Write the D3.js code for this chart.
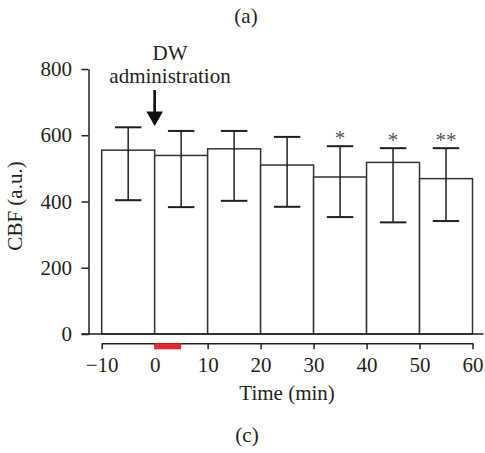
<!DOCTYPE html>
<html>
<head>
<meta charset="utf-8">
<title>CBF</title>
<script src="https://d3js.org/d3.v7.min.js"></script>
<style>
  body { margin: 0; background: #fff; }
</style>
</head>
<body>
<script>
// data
var binStart = [-10, 0, 10, 20, 30, 40, 50];   // each bar covers 10 min
var meanCBF  = [555, 539, 559, 510, 474, 518, 469];
var errHigh  = [624, 613, 613, 595, 567, 561, 561];
var errLow   = [404, 383, 402, 384, 353, 337, 341];
var signif   = ["", "", "", "", "*", "*", "**"];
var xTicks   = [-10, 0, 10, 20, 30, 40, 50, 60];
var yTicks   = [0, 200, 400, 600, 800];
var dwStart = 0, dwEnd = 5;

var W = 485, H = 453;
var serif = "'Liberation Serif', 'DejaVu Serif', serif";
var svg = d3.select("body").append("svg")
    .attr("width", W).attr("height", H);

var x = d3.scaleLinear().domain([-10, 60]).range([101.7, 472.5]);
var y = d3.scaleLinear().domain([0, 800]).range([334, 69]);
var axisY = 88.5, xAxisY = 343.3;
var ink = "#231f20";

function label(sel, size) {
    return sel.style("font-family", serif).style("font-size", size + "px").style("fill", ink);
}

// bars
svg.selectAll(".bar")
    .data(binStart)
    .enter().append("rect")
    .attr("class", "bar")
    .attr("x", function(d) { return x(d); })
    .attr("width", function(d) { return x(d + 10) - x(d); })
    .attr("y", function(d, i) { return y(meanCBF[i]); })
    .attr("height", function(d, i) { return y(0) - y(meanCBF[i]); })
    .attr("fill", "#fff")
    .attr("stroke", "#333")
    .attr("stroke-width", 1.5);

// error bars
var capW = (x(10) - x(0)) / 2;
var eb = svg.selectAll(".err")
    .data(binStart)
    .enter().append("g")
    .attr("class", "err")
    .attr("stroke", ink)
    .attr("stroke-width", 1.5);
eb.append("line")
    .attr("x1", function(d) { return x(d + 5); })
    .attr("x2", function(d) { return x(d + 5); })
    .attr("y1", function(d, i) { return y(errHigh[i]); })
    .attr("y2", function(d, i) { return y(errLow[i]); });
eb.append("line")
    .attr("x1", function(d) { return x(d + 5) - capW / 2; })
    .attr("x2", function(d) { return x(d + 5) + capW / 2; })
    .attr("y1", function(d, i) { return y(errHigh[i]); })
    .attr("y2", function(d, i) { return y(errHigh[i]); })
    .attr("stroke-width", 2);
eb.append("line")
    .attr("x1", function(d) { return x(d + 5) - capW / 2; })
    .attr("x2", function(d) { return x(d + 5) + capW / 2; })
    .attr("y1", function(d, i) { return y(errLow[i]); })
    .attr("y2", function(d, i) { return y(errLow[i]); })
    .attr("stroke-width", 2);

// significance stars
label(svg.selectAll(".sig")
    .data(binStart)
    .enter().append("text")
    .attr("class", "sig")
    .attr("x", function(d) { return x(d + 5); })
    .attr("y", function(d, i) { return y(errHigh[i]) - 1; })
    .attr("text-anchor", "middle")
    .text(function(d, i) { return signif[i]; }), 21)
    .style("fill", "#555");

// baseline at zero
svg.append("line")
    .attr("x1", axisY - 7).attr("x2", x(60) + 11)
    .attr("y1", y(0)).attr("y2", y(0))
    .attr("stroke", ink).attr("stroke-width", 1.5);

// y axis
var gy = svg.append("g")
    .attr("transform", "translate(" + axisY + ",0)")
    .call(d3.axisLeft(y).tickValues(yTicks).tickSize(7).tickSizeOuter(0).tickPadding(9.5));
gy.attr("font-family", null).attr("font-size", null);
gy.selectAll("path, line").attr("stroke", ink).attr("stroke-width", 1.5);
label(gy.selectAll("text"), 21);

// x axis
var gx = svg.append("g")
    .attr("transform", "translate(0," + xAxisY + ")")
    .call(d3.axisBottom(x).tickValues(xTicks).tickSize(6).tickSizeOuter(0).tickPadding(8));
gx.attr("font-family", null).attr("font-size", null);
gx.selectAll("path, line").attr("stroke", ink).attr("stroke-width", 1.5);
label(gx.selectAll("text"), 21);

// DW administration period
svg.append("rect")
    .attr("x", x(dwStart)).attr("width", x(dwEnd) - x(dwStart))
    .attr("y", xAxisY).attr("height", 6)
    .attr("fill", "#e8262c");

// arrow
var ax = x(0);
svg.append("line")
    .attr("x1", ax).attr("x2", ax).attr("y1", 90).attr("y2", 112)
    .attr("stroke", "#111").attr("stroke-width", 2.7);
svg.append("path")
    .attr("d", "M" + (ax - 8.3) + ",111.5L" + (ax + 8.3) + ",111.5L" + ax + ",126Z")
    .attr("fill", "#111");

label(svg.append("text").attr("x", 170).attr("y", 60).attr("text-anchor", "middle")
    .text("DW"), 21);
label(svg.append("text").attr("x", 170).attr("y", 83).attr("text-anchor", "middle")
    .text("administration"), 21);

// axis titles
label(svg.append("text")
    .attr("transform", "translate(22,206) rotate(-90)")
    .attr("text-anchor", "middle")
    .text("CBF (a.u.)"), 21);
label(svg.append("text")
    .attr("x", (x(-10) + x(60)) / 2).attr("y", 400)
    .attr("text-anchor", "middle")
    .text("Time (min)"), 21);

// panel labels
label(svg.append("text").attr("x", 246).attr("y", 23).attr("text-anchor", "middle")
    .text("(a)"), 21);
label(svg.append("text").attr("x", 247).attr("y", 442).attr("text-anchor", "middle")
    .text("(c)"), 21);
</script>
</body>
</html>
